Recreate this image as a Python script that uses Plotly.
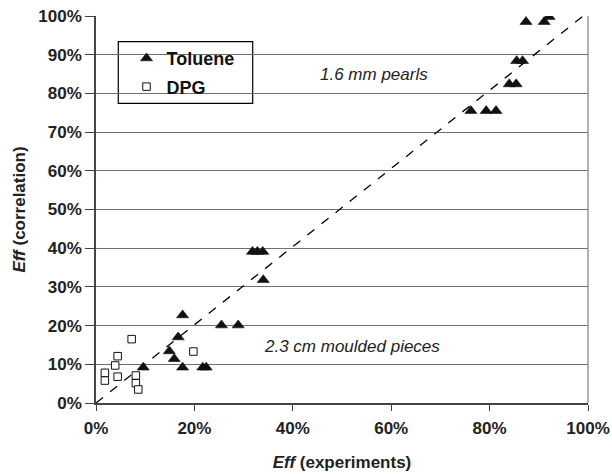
import plotly.graph_objects as go

# Toluene (experiments %, correlation %)
tol_x = [9.6, 14.9, 15.9, 16.7, 17.6, 17.6, 21.7, 22.4, 25.5, 28.9,
         31.8, 32.8, 33.9, 34.0,
         76.2, 79.3, 81.3, 84.0, 85.4, 85.5, 86.7, 87.4, 91.1, 92.1]
tol_y = [9.2, 13.4, 11.4, 17.0, 22.7, 9.2, 9.2, 9.2, 20.1, 20.1,
         39.1, 39.1, 39.1, 31.8,
         75.5, 75.5, 75.5, 82.4, 82.4, 88.4, 88.4, 98.5, 98.5, 99.8]

# DPG
dpg_x = [1.8, 1.8, 3.9, 4.4, 4.4, 7.25, 8.1, 8.1, 8.6, 19.8]
dpg_y = [7.8, 5.8, 9.7, 12.1, 6.8, 16.5, 7.1, 5.1, 3.5, 13.3]

diag_x = [0, 99]
diag_y = [0, 100]
xticks = [0, 20, 40, 60, 80, 100]
yticks = [0, 10, 20, 30, 40, 50, 60, 70, 80, 90, 100]

FONT = "Liberation Sans, Arial, sans-serif"
TXT = "#222222"

fig = go.Figure()
fig.add_trace(go.Scatter(x=diag_x, y=diag_y, mode="lines", showlegend=False,
                         line=dict(color="black", width=1.3, dash="dash"),
                         hoverinfo="skip"))
fig.add_trace(go.Scatter(x=tol_x, y=tol_y, mode="markers", name="Toluene",
                         legendgroup="a",
                         marker=dict(symbol="triangle-up", size=10.5, color="#111111",
                                     line=dict(color="#111111", width=0.6))))
fig.add_trace(go.Scatter(x=dpg_x, y=dpg_y, mode="markers", name="DPG",
                         legendgroup="b",
                         marker=dict(symbol="square", size=7.5, color="white",
                                     line=dict(color="#111111", width=1))))

fig.add_annotation(x=56.6, y=84.8, text="<i>1.6 mm pearls</i>", showarrow=False,
                   font=dict(family=FONT, size=17, color=TXT))
fig.add_annotation(x=52.0, y=14.5, text="<i>2.3 cm moulded pieces</i>", showarrow=False,
                   font=dict(family=FONT, size=17, color=TXT))

# legend frame
fig.add_shape(type="rect", xref="paper", yref="paper",
              x0=0.0453, x1=0.3185, y0=0.7744, y1=0.9336,
              line=dict(color="black", width=1.2), fillcolor="white", layer="between")
# right border of plot area
fig.add_shape(type="line", xref="paper", yref="paper", x0=1, x1=1, y0=0, y1=1,
              line=dict(color="#999999", width=1.5))

fig.update_layout(
    template="none",
    width=612, height=474,
    margin=dict(l=96, r=24, t=16, b=71),
    paper_bgcolor="white", plot_bgcolor="white",
    font=dict(family=FONT, color=TXT),
    showlegend=True,
    legend=dict(x=0.062, y=0.938, xanchor="left", yanchor="top",
                bgcolor="rgba(0,0,0,0)", borderwidth=0, tracegroupgap=2,
                font=dict(family=FONT, size=18, color="#111111", weight="bold")),
    xaxis=dict(range=[0, 100], tickvals=xticks, ticktext=[f"{t}%" for t in xticks],
               automargin=False,
               showgrid=False, zeroline=False, showline=True, linecolor="#444444",
               linewidth=1.5, ticks="outside", ticklen=6, tickcolor="#444444",
               ticklabelstandoff=3,
               tickfont=dict(family=FONT, size=17, color=TXT, weight="bold"),
               title=dict(text="<b><i>Eff</i> (experiments)</b>", standoff=19,
                          font=dict(family=FONT, size=17, color=TXT))),
    yaxis=dict(range=[0, 100], tickvals=yticks, ticktext=[f"{t}%" for t in yticks],
               automargin=False,
               showgrid=True, gridcolor="#6f6f6f", gridwidth=1, zeroline=False,
               showline=True, linecolor="#444444", linewidth=1.5,
               ticks="outside", ticklen=9, tickcolor="#444444",
               tickfont=dict(family=FONT, size=17, color=TXT, weight="bold"),
               title=dict(text="<b><i>Eff</i> (correlation)</b>", standoff=8,
                          font=dict(family=FONT, size=17, color=TXT))),
)

fig.write_html("out.html", config={"displayModeBar": False},
               post_script="document.body.style.margin='0';document.body.style.overflow='hidden';")
